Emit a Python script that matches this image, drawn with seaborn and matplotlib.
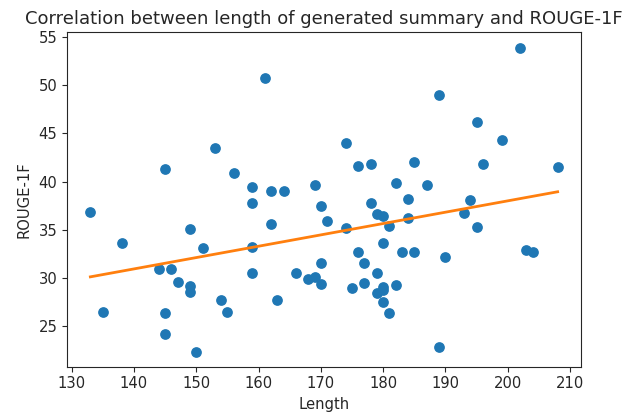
import matplotlib
matplotlib.use("Agg")
import matplotlib.pyplot as plt
import seaborn as sns
import numpy as np
import pandas as pd

lengths = [133, 135, 138, 144, 145, 145, 145, 146, 147, 149, 149, 149, 150, 151, 153,
           154, 155, 156, 159, 159, 159, 159, 161, 162, 162, 163, 164, 166, 168, 169,
           169, 170, 170, 170, 171, 174, 174, 175, 176, 176, 177, 177, 178, 178, 179,
           179, 179, 180, 180, 180, 180, 180, 181, 181, 182, 182, 183, 184, 184, 185,
           185, 187, 189, 189, 190, 193, 194, 195, 195, 196, 199, 202, 203, 204, 208]
rouge = [36.9, 26.5, 33.6, 30.9, 41.3, 26.4, 24.2, 30.9, 29.6, 35.1, 29.2, 28.6, 22.4, 33.1, 43.5,
         27.7, 26.5, 40.9, 39.4, 37.8, 33.2, 30.5, 50.7, 39.0, 35.6, 27.7, 39.0, 30.5, 29.9, 39.7,
         30.1, 37.5, 31.6, 29.4, 35.9, 44.0, 35.2, 29.0, 41.6, 32.7, 31.6, 29.5, 41.8, 37.8, 36.6,
         30.5, 28.5, 36.4, 33.6, 29.1, 28.8, 27.5, 35.4, 26.4, 39.9, 29.3, 32.7, 38.2, 36.2, 42.0,
         32.7, 39.7, 49.0, 22.9, 32.2, 36.7, 38.1, 46.2, 35.3, 41.8, 44.3, 53.9, 32.9, 32.7, 41.5]

df = pd.DataFrame({"Length": lengths, "ROUGE-1F": rouge})

fig = plt.figure(figsize=(6.29, 4.16), dpi=100)
ax = fig.add_axes([67/629, 1-366.7/416, (581-67)/629, (366.7-32.3)/416])

sns.scatterplot(data=df, x="Length", y="ROUGE-1F", ax=ax, color="#1f77b4",
                s=45, linewidth=1, edgecolor="#1f77b4", zorder=2)
sns.regplot(data=df, x="Length", y="ROUGE-1F", ax=ax, scatter=False, ci=None,
            color="#ff7f0e", line_kws={"linewidth": 2.0, "zorder": 3})

ax.set_xticks(np.arange(130, 211, 10))
ax.set_yticks(np.arange(25, 56, 5))
ax.tick_params(labelsize=10.6, colors="#262626", labelcolor="#262626")
for sp in ax.spines.values():
    sp.set_color("#262626")
ax.set_xlabel("Length", fontsize=10.6, color="#262626")
ax.set_ylabel("ROUGE-1F", fontsize=10.6, color="#262626", labelpad=5)
ax.set_title("Correlation between length of generated summary and ROUGE-1F",
             fontsize=12.95, color="#262626", pad=6)

fig.savefig("out.png", dpi=100)
